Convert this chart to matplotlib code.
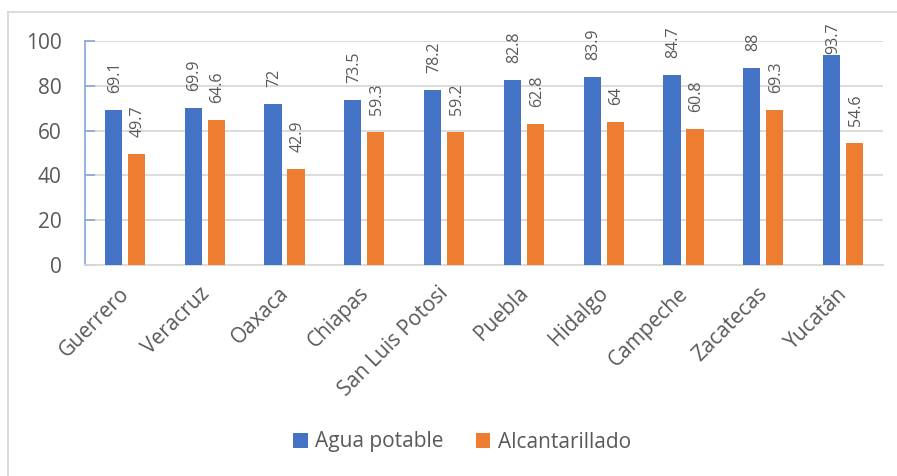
import matplotlib
matplotlib.use("Agg")
import matplotlib.pyplot as plt
import numpy as np
from matplotlib.lines import Line2D
import matplotlib.transforms as mtrans

states = ["Guerrero", "Veracruz", "Oaxaca", "Chiapas", "San Luis Potosi",
          "Puebla", "Hidalgo", "Campeche", "Zacatecas", "Yucatán"]
agua = [69.1, 69.9, 72, 73.5, 78.2, 82.8, 83.9, 84.7, 88, 93.7]
alcant = [49.7, 64.6, 42.9, 59.3, 59.2, 62.8, 64, 60.8, 69.3, 54.6]
agua_lbl = ["69.1", "69.9", "72", "73.5", "78.2", "82.8", "83.9", "84.7", "88", "93.7"]
alcant_lbl = ["49.7", "64.6", "42.9", "59.3", "59.2", "62.8", "64", "60.8", "69.3", "54.6"]
yticks = [0, 20, 40, 60, 80, 100]

plt.rcParams['font.family'] = ['Open Sans', 'DejaVu Sans']
txt = '#595959'

fig = plt.figure(figsize=(8.97, 4.76), dpi=100)
ax = fig.add_axes([85/897, 1-265/476, (883-85)/897, (265-41)/476])

x = np.arange(len(states))
w = 0.215
off = 0.144
b1 = ax.bar(x - off, agua, w, color='#4472C4', label='Agua potable', zorder=3)
b2 = ax.bar(x + off, alcant, w, color='#ED7D31', label='Alcantarillado', zorder=3)

anns = []
for bars, labels in ((b1, agua_lbl), (b2, alcant_lbl)):
    for rect, lab in zip(bars, labels):
        a = ax.annotate(lab, (rect.get_x() + rect.get_width()/2, rect.get_height()),
                        xytext=(1, 12.2), textcoords='offset points', rotation=90,
                        ha='center', va='bottom', fontsize=11.5, color=txt)
        anns.append(a)

ax.set_xlim(-0.5, len(states) - 0.5)
ax.set_ylim(0, 100)
ax.set_yticks(yticks)
ax.set_yticklabels([str(t) for t in yticks], fontsize=15, color=txt)
ax.yaxis.grid(True, color='#D9D9D9', linewidth=1.3, zorder=0)
ax.set_axisbelow(True)
ax.tick_params(axis='y', direction='in', length=7, color='#8FAADC', width=1.3, pad=17)
ax.set_xticks(x)
ax.set_xticklabels(states, rotation=45, ha='right', va='top', rotation_mode='anchor',
                   fontsize=15, color=txt)
ax.tick_params(axis='x', length=0, pad=13)
shift = mtrans.ScaledTranslation(-6/100, 0, fig.dpi_scale_trans)
for lbl in ax.get_xticklabels():
    lbl.set_transform(lbl.get_transform() + shift)
for s in ['top', 'right']:
    ax.spines[s].set_visible(False)
ax.spines['left'].set_color('#8FAADC')
ax.spines['left'].set_linewidth(1.3)
ax.spines['bottom'].set_color('#D9D9D9')
ax.spines['bottom'].set_linewidth(1.3)

leg = fig.legend(handles=[b1, b2], loc='center', bbox_to_anchor=(462/897, 1-442/476),
                 ncol=2, frameon=False, fontsize=15, handlelength=0.7, handleheight=0.7,
                 handletextpad=0.35, columnspacing=1.55)
for t in leg.get_texts():
    t.set_color(txt)

fig.add_artist(Line2D([8/897, 8/897], [0, 1-12/476], color='#D9D9D9', linewidth=1.3,
                      transform=fig.transFigure))
fig.add_artist(Line2D([8/897, 1], [1-12/476, 1-12/476], color='#D9D9D9', linewidth=1.3,
                      transform=fig.transFigure))

# keep data labels inside the chart area (like the original)
fig.canvas.draw()
r = fig.canvas.get_renderer()
limit = 476 - 23
for a in anns:
    bb = a.get_window_extent(r)
    if bb.y1 > limit:
        dy = (bb.y1 - limit) * 72 / fig.dpi
        ox, oy = a.xyann
        a.xyann = (ox, oy - dy)

fig.savefig('out.png', dpi=100)
